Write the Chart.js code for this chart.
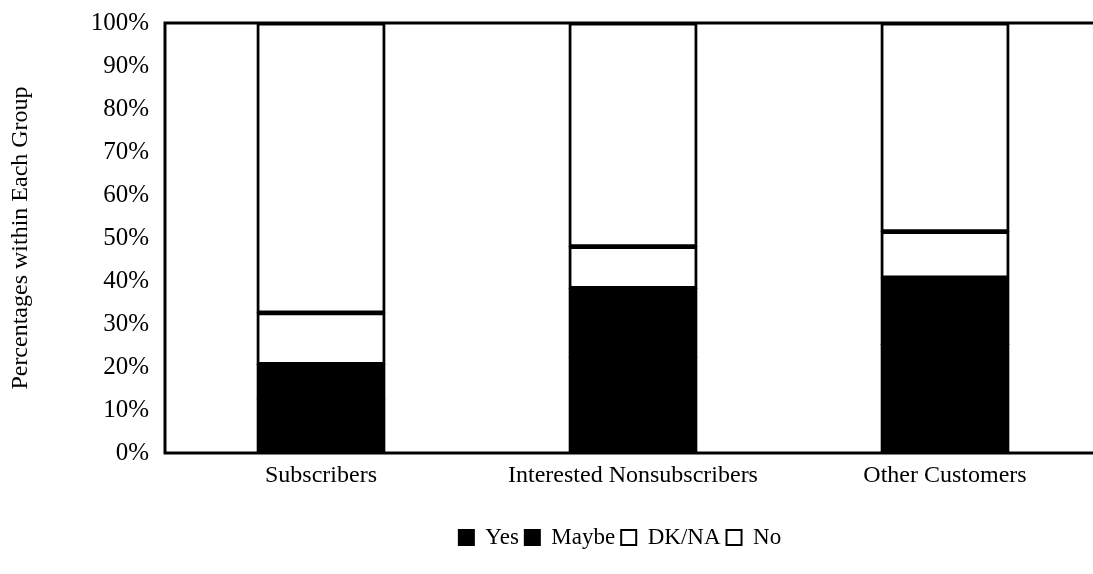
<!DOCTYPE html>
<html>
<head>
<meta charset="utf-8">
<script src="https://cdn.jsdelivr.net/npm/chart.js@4/dist/chart.umd.min.js"></script>
<style>
  html, body { margin: 0; padding: 0; background: #fff; overflow: hidden; }
  #wrap { width: 1102px; height: 574px; }
</style>
</head>
<body>
<div id="wrap"><canvas id="c" width="1102" height="574"></canvas></div>
<script>
// Survey answers by customer group (percent within each group)
const groups = ['Subscribers', 'Interested Nonsubscribers', 'Other Customers'];
const yesPct   = [12.6, 22.3, 25.2];
const maybePct = [8.0, 16.0, 15.5];
const dkNaPct  = [12.0, 9.7, 10.8];
const noPct    = [67.4, 52.0, 48.5];
const yTicks   = [0, 10, 20, 30, 40, 50, 60, 70, 80, 90, 100];

const serif = "'Liberation Serif', 'DejaVu Serif', serif";

// frame around the plotting area
const frame = {
  id: 'frame',
  afterDatasetsDraw(chart) {
    const a = chart.chartArea, ctx = chart.ctx;
    ctx.save();
    ctx.strokeStyle = '#000';
    ctx.lineWidth = 3;
    ctx.strokeRect(a.left, a.top, a.right - a.left, a.bottom - a.top);
    ctx.restore();
  }
};

// nudge the legend a little to the left of the plot centre
const legendShift = {
  id: 'legendShift',
  afterLayout(chart) {
    const lg = chart.legend;
    if (lg) { lg.left -= 13; lg.right -= 13; }
  }
};

function series(label, data, fill) {
  return {
    label, data,
    backgroundColor: fill,
    borderColor: '#000',
    borderWidth: 3,
    borderSkipped: false,
    inflateAmount: 0.6,
    categoryPercentage: 1.0,
    barPercentage: 0.41
  };
}

new Chart(document.getElementById('c'), {
  type: 'bar',
  data: {
    labels: groups,
    datasets: [
      series('Yes', yesPct, '#000'),
      series('Maybe', maybePct, '#000'),
      series('DK/NA', dkNaPct, '#fff'),
      series('No', noPct, '#fff')
    ]
  },
  options: {
    responsive: false,
    animation: false,
    layout: { padding: { top: 4, right: 1, bottom: 15, left: 4 } },
    plugins: {
      tooltip: { enabled: false },
      legend: {
        position: 'bottom',
        fullSize: false,
        labels: {
          color: '#000',
          font: { family: serif, size: 23 },
          boxWidth: 15,
          boxHeight: 15,
          padding: 6,
          generateLabels(chart) {
            return Chart.defaults.plugins.legend.labels.generateLabels(chart)
              .map(l => Object.assign(l, { lineWidth: 2 }));
          }
        }
      }
    },
    scales: {
      x: {
        stacked: true,
        grid: { display: false },
        border: { display: false },
        ticks: { color: '#000', font: { family: serif, size: 24 }, padding: 0 },
        afterFit(s) { s.height = 67; }
      },
      y: {
        stacked: true,
        min: 0,
        max: 100,
        afterBuildTicks(s) { s.ticks = yTicks.map(v => ({ value: v })); },
        afterFit(s) { s.width = 161; },
        grid: { display: false },
        border: { display: false },
        ticks: {
          color: '#000',
          font: { family: serif, size: 25 },
          padding: 8,
          callback: v => v + '%'
        },
        title: {
          display: true,
          text: 'Percentages within Each Group',
          color: '#000',
          font: { family: serif, size: 24 },
          padding: { top: 2, bottom: 0 }
        }
      }
    }
  },
  plugins: [frame, legendShift]
});
</script>
</body>
</html>
